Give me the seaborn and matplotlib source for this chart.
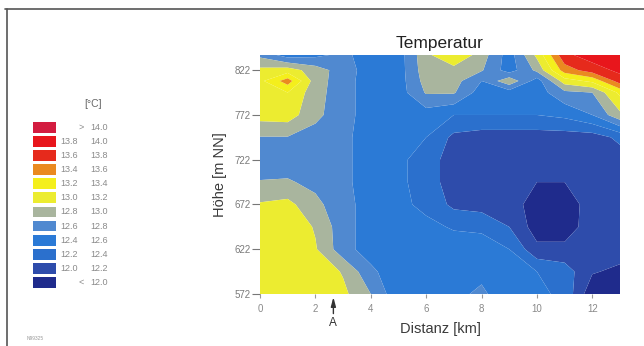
import numpy as np
import matplotlib
matplotlib.use("Agg")
import matplotlib.pyplot as plt
from matplotlib.patches import Rectangle
from matplotlib.lines import Line2D
import seaborn as sns

# Grid of the temperature section
distance_km = [0, 1, 2, 3, 4, 5, 6, 7, 8, 9, 10, 11, 12, 13]
height_m = [572, 597, 622, 647, 672, 697, 722, 747, 772, 797, 810, 822, 839]

# Temperature [°C], one list per height, west to east
t_572 = [13.15, 13.15, 13.15, 13.05, 12.80, 12.45, 12.50, 12.56, 12.63, 12.50, 12.45, 12.35, 11.85, 11.85]
t_597 = [13.15, 13.15, 13.15, 12.98, 12.65, 12.45, 12.50, 12.52, 12.56, 12.50, 12.40, 12.30, 12.02, 11.95]
t_622 = [13.15, 13.15, 13.02, 12.68, 12.50, 12.50, 12.50, 12.50, 12.52, 12.40, 12.05, 12.05, 12.10, 12.10]
t_647 = [13.15, 13.15, 12.98, 12.68, 12.50, 12.50, 12.45, 12.38, 12.35, 12.20, 11.90, 11.90, 12.10, 12.10]
t_672 = [13.02, 13.06, 12.85, 12.68, 12.50, 12.45, 12.35, 12.15, 12.12, 12.12, 11.88, 11.88, 12.10, 12.10]
t_697 = [12.81, 12.82, 12.75, 12.65, 12.50, 12.45, 12.30, 12.10, 12.10, 12.10, 12.00, 12.00, 12.10, 12.10]
t_722 = [12.70, 12.70, 12.70, 12.65, 12.50, 12.45, 12.30, 12.10, 12.10, 12.10, 12.10, 12.10, 12.10, 12.10]
t_747 = [12.79, 12.79, 12.72, 12.65, 12.50, 12.45, 12.40, 12.15, 12.10, 12.10, 12.10, 12.10, 12.10, 12.25]
t_772 = [13.08, 13.10, 12.85, 12.68, 12.50, 12.50, 12.50, 12.40, 12.40, 12.40, 12.40, 12.45, 12.60, 12.95]
t_797 = [13.15, 13.20, 12.88, 12.68, 12.50, 12.50, 12.82, 12.82, 12.50, 12.50, 12.50, 12.75, 12.80, 13.25]
t_810 = [13.15, 13.50, 12.90, 12.68, 12.50, 12.50, 12.88, 12.88, 12.60, 12.95, 12.50, 13.10, 13.25, 13.70]
t_822 = [13.05, 13.10, 12.90, 12.70, 12.50, 12.50, 12.92, 12.92, 12.82, 12.50, 12.85, 13.50, 13.70, 13.85]
t_839 = [12.75, 12.50, 12.55, 12.65, 12.50, 12.50, 12.95, 13.20, 12.90, 12.50, 13.05, 13.75, 13.90, 13.95]

# Class boundaries of the colour key
class_bounds = [12.0, 12.2, 12.4, 12.6, 12.8, 13.0, 13.2, 13.4, 13.6, 13.8, 14.0]
class_colors = ["#1f2b8c", "#2e4cab", "#2b70cd", "#2b7ad6", "#5089d0", "#a9b59e",
                "#ecec30", "#f4ef1c", "#ea8a20", "#e62a1c", "#e8161c", "#d31c40"]

xticks = [0, 2, 4, 6, 8, 10, 12]
yticks = [572, 622, 672, 722, 772, 822]
marker_a_km = 2.65

sns.set_theme(style="white")
plt.rcParams["font.family"] = ["Liberation Sans", "DejaVu Sans"]

fig = plt.figure(figsize=(6.44, 3.46), dpi=100)
W, H = 644.0, 346.0
ax = fig.add_axes([260 / W, 1 - 294 / H, 360 / W, 239 / H])

X, Y = np.meshgrid(distance_km, height_m)
Z = np.array([t_572, t_597, t_622, t_647, t_672, t_697, t_722,
              t_747, t_772, t_797, t_810, t_822, t_839])
palette = sns.color_palette(class_colors)
fill_levels = [10.0] + class_bounds + [16.0]
ax.contourf(X, Y, Z, levels=fill_levels, colors=palette, antialiased=True)

ax.set_xlim(0, 13)
ax.set_ylim(572, 839)
ax.set_xticks(xticks)
ax.set_yticks(yticks)
for s in ax.spines.values():
    s.set_visible(False)
ax.tick_params(axis="y", left=True, length=6, width=0.8, color="#777777",
               pad=1, labelsize=7, labelcolor="#7a7a7a")
ax.tick_params(axis="x", bottom=True, length=3, width=0.8, color="#999999",
               pad=4, labelsize=7, labelcolor="#8a8a8a")

ax.set_title("Temperatur", fontsize=12.5, color="#222222", pad=5)
ax.set_xlabel("Distanz [km]", fontsize=10.5, color="#3a3a3a", labelpad=6)
ax.set_ylabel("Höhe [m NN]", fontsize=10.5, color="#3a3a3a", labelpad=5)

# Profile marker A below the distance axis
ax.annotate("", xy=(marker_a_km, -0.013), xycoords=("data", "axes fraction"),
            xytext=(marker_a_km, -0.082), textcoords=("data", "axes fraction"),
            arrowprops=dict(arrowstyle="-|>,head_width=0.12,head_length=0.45",
                            color="#333333", lw=1.0, shrinkA=0, shrinkB=0),
            annotation_clip=False)
ax.text(marker_a_km, -0.121, "A", transform=ax.get_xaxis_transform(),
        ha="center", va="center", fontsize=8.5, color="#333333")

# Colour key on the left
fig.text(93 / W, 1 - 104 / H, "[°C]", ha="center", va="center",
         fontsize=7.5, color="#666666")
n = len(class_colors)
for i in range(n):
    k = n - 1 - i
    y_top = 122 + i * 14.1
    fig.patches.append(Rectangle((33 / W, 1 - (y_top + 10.7) / H), 23 / W, 10.7 / H,
                                 transform=fig.transFigure, facecolor=palette[k],
                                 edgecolor="none", figure=fig))
    yc = 1 - (y_top + 5.35) / H
    if k == n - 1:
        lo, hi = ">", f"{class_bounds[-1]:.1f}"
        fig.text(81 / W, yc, lo, ha="center", va="center", fontsize=6.5, color="#8a8a8a")
    elif k == 0:
        lo, hi = "<", f"{class_bounds[0]:.1f}"
        fig.text(81 / W, yc, lo, ha="center", va="center", fontsize=6.5, color="#8a8a8a")
    else:
        lo, hi = f"{class_bounds[k - 1]:.1f}", f"{class_bounds[k]:.1f}"
        fig.text(78 / W, yc, lo, ha="right", va="center", fontsize=6.5, color="#8a8a8a")
    fig.text(108 / W, yc, hi, ha="right", va="center", fontsize=6.5, color="#8a8a8a")

# Panel frame
fig.add_artist(Line2D([5 / W, 1.0], [1 - 9 / H, 1 - 9 / H], transform=fig.transFigure,
                      color="#555555", lw=1.2))
fig.add_artist(Line2D([7 / W, 7 / W], [1 - 9 / H, 0.0], transform=fig.transFigure,
                      color="#555555", lw=1.2))
fig.text(27 / W, 1 - 338 / H, "N99325", ha="left", va="center", fontsize=3.5, color="#999999")

fig.savefig("out.png", dpi=100, facecolor="white")
